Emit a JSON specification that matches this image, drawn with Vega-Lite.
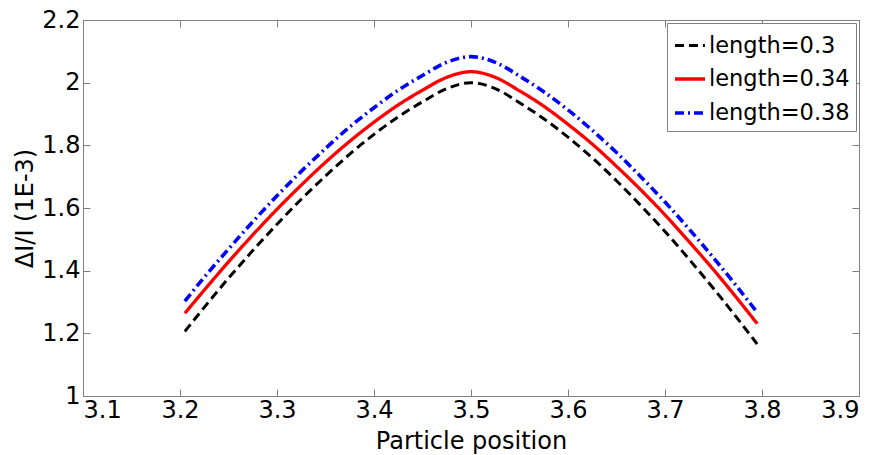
{
  "$schema": "https://vega.github.io/schema/vega-lite/v6.json",
  "autosize": {"type": "none"},
  "padding": {"left": 83, "top": 20, "right": 22, "bottom": 59},
  "width": 776,
  "height": 376,
  "background": "white",
  "config": {
    "view": {"stroke": "#808080", "strokeWidth": 1},
    "font": "DejaVu Sans",
    "axis": {
      "domainColor": "#808080",
      "tickColor": "#808080",
      "tickSize": -7,
      "labelColor": "black",
      "titleColor": "black",
      "labelFont": "DejaVu Sans",
      "titleFont": "DejaVu Sans",
      "labelFontSize": 24,
      "titleFontSize": 24,
      "titleFontWeight": "normal",
      "grid": false
    }
  },
  "data": {
    "values": [
      {"x": 3.205, "y": 1.206, "series": "length=0.3"},
      {"x": 3.225, "y": 1.283, "series": "length=0.3"},
      {"x": 3.25, "y": 1.376, "series": "length=0.3"},
      {"x": 3.275, "y": 1.464, "series": "length=0.3"},
      {"x": 3.3, "y": 1.548, "series": "length=0.3"},
      {"x": 3.325, "y": 1.628, "series": "length=0.3"},
      {"x": 3.35, "y": 1.702, "series": "length=0.3"},
      {"x": 3.375, "y": 1.772, "series": "length=0.3"},
      {"x": 3.4, "y": 1.835, "series": "length=0.3"},
      {"x": 3.425, "y": 1.891, "series": "length=0.3"},
      {"x": 3.45, "y": 1.939, "series": "length=0.3"},
      {"x": 3.475, "y": 1.981, "series": "length=0.3"},
      {"x": 3.5, "y": 2.0, "series": "length=0.3"},
      {"x": 3.525, "y": 1.981, "series": "length=0.3"},
      {"x": 3.55, "y": 1.936, "series": "length=0.3"},
      {"x": 3.575, "y": 1.885, "series": "length=0.3"},
      {"x": 3.6, "y": 1.826, "series": "length=0.3"},
      {"x": 3.625, "y": 1.76, "series": "length=0.3"},
      {"x": 3.65, "y": 1.687, "series": "length=0.3"},
      {"x": 3.675, "y": 1.608, "series": "length=0.3"},
      {"x": 3.7, "y": 1.525, "series": "length=0.3"},
      {"x": 3.725, "y": 1.436, "series": "length=0.3"},
      {"x": 3.75, "y": 1.343, "series": "length=0.3"},
      {"x": 3.775, "y": 1.246, "series": "length=0.3"},
      {"x": 3.795, "y": 1.166, "series": "length=0.3"},
      {"x": 3.205, "y": 1.264, "series": "length=0.34"},
      {"x": 3.225, "y": 1.338, "series": "length=0.34"},
      {"x": 3.25, "y": 1.428, "series": "length=0.34"},
      {"x": 3.275, "y": 1.514, "series": "length=0.34"},
      {"x": 3.3, "y": 1.596, "series": "length=0.34"},
      {"x": 3.325, "y": 1.673, "series": "length=0.34"},
      {"x": 3.35, "y": 1.746, "series": "length=0.34"},
      {"x": 3.375, "y": 1.813, "series": "length=0.34"},
      {"x": 3.4, "y": 1.874, "series": "length=0.34"},
      {"x": 3.425, "y": 1.929, "series": "length=0.34"},
      {"x": 3.45, "y": 1.976, "series": "length=0.34"},
      {"x": 3.475, "y": 2.017, "series": "length=0.34"},
      {"x": 3.5, "y": 2.035, "series": "length=0.34"},
      {"x": 3.525, "y": 2.017, "series": "length=0.34"},
      {"x": 3.55, "y": 1.974, "series": "length=0.34"},
      {"x": 3.575, "y": 1.925, "series": "length=0.34"},
      {"x": 3.6, "y": 1.867, "series": "length=0.34"},
      {"x": 3.625, "y": 1.804, "series": "length=0.34"},
      {"x": 3.65, "y": 1.733, "series": "length=0.34"},
      {"x": 3.675, "y": 1.658, "series": "length=0.34"},
      {"x": 3.7, "y": 1.578, "series": "length=0.34"},
      {"x": 3.725, "y": 1.492, "series": "length=0.34"},
      {"x": 3.75, "y": 1.403, "series": "length=0.34"},
      {"x": 3.775, "y": 1.309, "series": "length=0.34"},
      {"x": 3.795, "y": 1.231, "series": "length=0.34"},
      {"x": 3.205, "y": 1.303, "series": "length=0.38"},
      {"x": 3.225, "y": 1.379, "series": "length=0.38"},
      {"x": 3.25, "y": 1.469, "series": "length=0.38"},
      {"x": 3.275, "y": 1.556, "series": "length=0.38"},
      {"x": 3.3, "y": 1.639, "series": "length=0.38"},
      {"x": 3.325, "y": 1.717, "series": "length=0.38"},
      {"x": 3.35, "y": 1.79, "series": "length=0.38"},
      {"x": 3.375, "y": 1.859, "series": "length=0.38"},
      {"x": 3.4, "y": 1.92, "series": "length=0.38"},
      {"x": 3.425, "y": 1.976, "series": "length=0.38"},
      {"x": 3.45, "y": 2.023, "series": "length=0.38"},
      {"x": 3.475, "y": 2.065, "series": "length=0.38"},
      {"x": 3.5, "y": 2.083, "series": "length=0.38"},
      {"x": 3.525, "y": 2.065, "series": "length=0.38"},
      {"x": 3.55, "y": 2.021, "series": "length=0.38"},
      {"x": 3.575, "y": 1.971, "series": "length=0.38"},
      {"x": 3.6, "y": 1.913, "series": "length=0.38"},
      {"x": 3.625, "y": 1.848, "series": "length=0.38"},
      {"x": 3.65, "y": 1.777, "series": "length=0.38"},
      {"x": 3.675, "y": 1.7, "series": "length=0.38"},
      {"x": 3.7, "y": 1.619, "series": "length=0.38"},
      {"x": 3.725, "y": 1.532, "series": "length=0.38"},
      {"x": 3.75, "y": 1.441, "series": "length=0.38"},
      {"x": 3.775, "y": 1.346, "series": "length=0.38"},
      {"x": 3.795, "y": 1.267, "series": "length=0.38"}
    ]
  },
  "resolve": {"axis": {"x": "independent", "y": "independent"}},
  "layer": [
    {
      "mark": {"type": "line", "interpolate": "monotone", "clip": true},
      "encoding": {
        "x": {
          "field": "x", "type": "quantitative",
          "scale": {"domain": [3.1, 3.9], "nice": false, "zero": false},
          "axis": {"orient": "bottom", "values": [3.1, 3.2, 3.3, 3.4, 3.5, 3.6, 3.7, 3.8, 3.9], "format": "~g", "title": "Particle position", "labelPadding": 9, "titlePadding": 7}
        },
        "y": {
          "field": "y", "type": "quantitative",
          "scale": {"domain": [1, 2.2], "nice": false, "zero": false},
          "axis": {"orient": "left", "values": [1, 1.2, 1.4, 1.6, 1.8, 2, 2.2], "format": "~g", "title": "ΔI/I (1E-3)", "labelPadding": 10, "titlePadding": 4}
        },
        "color": {
          "field": "series", "type": "nominal",
          "scale": {"domain": ["length=0.3", "length=0.34", "length=0.38"], "range": ["#000000", "#ff0000", "#0000ff"]},
          "legend": {
            "orient": "none", "legendX": 584, "legendY": 3,
            "title": null,
            "symbolType": "stroke", "symbolSize": 900, "symbolStrokeWidth": 3,
            "labelFontSize": 22.5, "labelFont": "DejaVu Sans", "labelColor": "black",
            "labelOffset": 2,
            "rowPadding": 5,
            "padding": 6,
            "strokeColor": "#808080", "fillColor": "white",
            "cornerRadius": 0
          }
        },
        "strokeDash": {
          "field": "series", "type": "nominal",
          "scale": {"domain": ["length=0.3", "length=0.34", "length=0.38"], "range": [[9, 5], [1, 0], [9, 4, 2, 4]]},
          "legend": null
        },
        "strokeWidth": {
          "field": "series", "type": "nominal",
          "scale": {"domain": ["length=0.3", "length=0.34", "length=0.38"], "range": [3, 3.6, 3]},
          "legend": null
        }
      }
    },
    {
      "mark": {"type": "point", "opacity": 0},
      "encoding": {
        "x": {
          "field": "x", "type": "quantitative",
          "scale": {"domain": [3.1, 3.9], "nice": false, "zero": false},
          "axis": {"orient": "top", "values": [3.1, 3.2, 3.3, 3.4, 3.5, 3.6, 3.7, 3.8, 3.9], "labels": false, "title": null, "domain": false}
        },
        "y": {
          "field": "y", "type": "quantitative",
          "scale": {"domain": [1, 2.2], "nice": false, "zero": false},
          "axis": {"orient": "right", "values": [1, 1.2, 1.4, 1.6, 1.8, 2, 2.2], "labels": false, "title": null, "domain": false}
        }
      }
    }
  ]
}
